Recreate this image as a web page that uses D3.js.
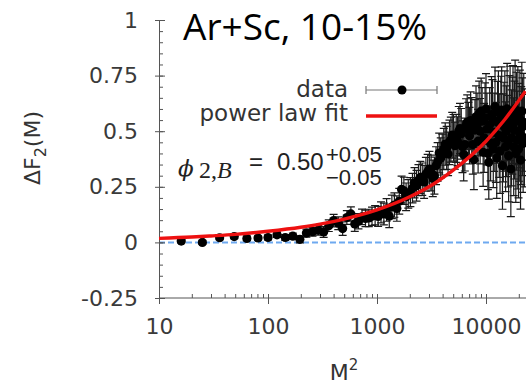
<!DOCTYPE html>
<html>
<head>
<meta charset="utf-8">
<script src="https://cdn.jsdelivr.net/npm/d3@7"></script>
<style>
  body { margin: 0; background: #fff; }
  svg { display: block; }
  .tick text { font-family: "DejaVu Sans", sans-serif; fill: #3a3a3a; }
</style>
</head>
<body>
<div id="chart"></div>
<script>
// bin number M (points are plotted at M^2)
const binM = [
  4, 5, 6, 7, 8, 9, 10, 11, 12, 13,
  14, 15, 16, 17, 18, 19, 20, 21, 22, 23,
  24, 25, 26, 27, 28, 29, 30, 31, 32, 33,
  34, 35, 36, 37, 38, 39, 40, 41, 42, 43,
  44, 45, 46, 47, 48, 49, 50, 51, 52, 53,
  54, 55, 56, 57, 58, 59, 60, 61, 62, 63,
  64, 65, 66, 67, 68, 69, 70, 71, 72, 73,
  74, 75, 76, 77, 78, 79, 80, 81, 82, 83,
  84, 85, 86, 87, 88, 89, 90, 91, 92, 93,
  94, 95, 96, 97, 98, 99, 100, 101, 102, 103,
  104, 105, 106, 107, 108, 109, 110, 111, 112, 113,
  114, 115, 116, 117, 118, 119, 120, 121, 122, 123,
  124, 125, 126, 127, 128, 129, 130, 131, 132, 133,
  134, 135, 136, 137, 138, 139, 140, 141, 142, 143,
  144, 145, 146, 147, 148, 149, 150
];
const deltaF2 = [
  0.006, 0.000, 0.021, 0.026, 0.018, 0.020, 0.022, 0.034, 0.022, 0.028,
  0.014, 0.042, 0.048, 0.055, 0.047, 0.075, 0.098, 0.086, 0.062, 0.112,
  0.128, 0.083, 0.095, 0.115, 0.108, 0.110, 0.118, 0.122, 0.117, 0.135,
  0.128, 0.146, 0.118, 0.160, 0.168, 0.152, 0.185, 0.238, 0.232, 0.205,
  0.218, 0.226, 0.244, 0.268, 0.255, 0.280, 0.292, 0.284, 0.272, 0.306,
  0.318, 0.330, 0.312, 0.288, 0.300, 0.345, 0.362, 0.402, 0.380, 0.395,
  0.420, 0.442, 0.425, 0.398, 0.450, 0.462, 0.482, 0.470, 0.435, 0.468,
  0.455, 0.500, 0.512, 0.488, 0.430, 0.395, 0.440, 0.525, 0.540, 0.505,
  0.480, 0.548, 0.520, 0.440, 0.372, 0.505, 0.565, 0.530, 0.455, 0.580,
  0.500, 0.590, 0.545, 0.405, 0.470, 0.560, 0.600, 0.510, 0.400, 0.360,
  0.530, 0.445, 0.575, 0.560, 0.420, 0.495, 0.610, 0.450, 0.380, 0.540,
  0.585, 0.480, 0.410, 0.555, 0.595, 0.345, 0.470, 0.520, 0.570, 0.430,
  0.500, 0.600, 0.455, 0.390, 0.540, 0.580, 0.330, 0.470, 0.525, 0.575,
  0.430, 0.505, 0.600, 0.400, 0.545, 0.460, 0.570, 0.420, 0.495, 0.555,
  0.370, 0.480, 0.590, 0.520, 0.445, 0.540, 0.470
];
const errF2 = [
  0.008, 0.008, 0.009, 0.009, 0.010, 0.010, 0.011, 0.012, 0.013, 0.014,
  0.016, 0.018, 0.020, 0.022, 0.024, 0.026, 0.028, 0.029, 0.030, 0.031,
  0.032, 0.033, 0.034, 0.035, 0.037, 0.039, 0.041, 0.043, 0.045, 0.047,
  0.049, 0.051, 0.052, 0.053, 0.055, 0.057, 0.058, 0.060, 0.061, 0.062,
  0.064, 0.065, 0.066, 0.068, 0.069, 0.070, 0.072, 0.073, 0.074, 0.076,
  0.078, 0.079, 0.080, 0.082, 0.083, 0.085, 0.087, 0.089, 0.090, 0.092,
  0.093, 0.095, 0.097, 0.098, 0.100, 0.101, 0.103, 0.105, 0.106, 0.108,
  0.110, 0.111, 0.113, 0.114, 0.116, 0.118, 0.119, 0.121, 0.123, 0.125,
  0.127, 0.129, 0.131, 0.133, 0.135, 0.137, 0.139, 0.141, 0.143, 0.145,
  0.147, 0.149, 0.151, 0.153, 0.155, 0.157, 0.159, 0.161, 0.163, 0.165,
  0.166, 0.168, 0.170, 0.172, 0.174, 0.176, 0.178, 0.180, 0.182, 0.184,
  0.186, 0.188, 0.190, 0.192, 0.194, 0.196, 0.198, 0.200, 0.201, 0.202,
  0.204, 0.205, 0.206, 0.208, 0.210, 0.212, 0.214, 0.216, 0.218, 0.220,
  0.220, 0.220, 0.220, 0.220, 0.220, 0.220, 0.220, 0.220, 0.220, 0.220,
  0.220, 0.220, 0.220, 0.220, 0.220, 0.220, 0.220
];

// power law fit
const fitM2 = [10, 20, 30, 50, 100, 200, 300, 500, 1000, 2000, 3000, 5000, 10000, 15000, 23000];
const fitVals = [0.018, 0.024, 0.029, 0.036, 0.050, 0.068, 0.082, 0.105, 0.146, 0.205, 0.250, 0.325, 0.455, 0.555, 0.680];

const yTickVals = [-0.25, 0, 0.25, 0.5, 0.75, 1];
const yTickLabels = ["-0.25", "0", "0.25", "0.5", "0.75", "1"];
const xTickVals = [10, 100, 1000, 10000];
const xTickLabels = ["10", "100", "1000", "10000"];

const width = 526, height = 386;

const svg = d3.select('#chart')
  .append('svg')
  .attr('width', width)
  .attr('height', height);

const x = d3.scaleLog().domain([10, 30000]).range([159, 159 + 109 * Math.log10(3000)]);
const y = d3.scaleLinear().domain([-0.25, 1]).range([298, 20]);

const points = binM.map((m, i) => ({m2: m * m, v: deltaF2[i], e: errF2[i]}));
const fit = fitM2.map((m2, i) => ({m2: m2, v: fitVals[i]}));

// zero reference line
svg.append('line')
  .attr('x1', x(10)).attr('x2', width)
  .attr('y1', y(0)).attr('y2', y(0))
  .attr('stroke', '#6ea9f0')
  .attr('stroke-width', 2)
  .attr('stroke-dasharray', '6,3');

// axes
const yAxis = svg.append('g')
  .attr('transform', `translate(${x(10)},0)`)
  .call(d3.axisLeft(y).tickValues(yTickVals).tickSize(4)
    .tickFormat((d, i) => yTickLabels[i]).tickPadding(17));
yAxis.selectAll('.tick text').attr('font-size', 22);

svg.append('g')
  .attr('transform', `translate(${x(10)},0)`)
  .call(d3.axisLeft(y).tickValues(y.ticks(25)).tickSize(-4).tickFormat(''))
  .call(g => g.select('.domain').remove());
svg.append('g')
  .attr('transform', `translate(${x(10)},0)`)
  .call(d3.axisLeft(y).tickValues(yTickVals).tickSize(-6).tickFormat(''))
  .call(g => g.select('.domain').remove());

const xAxis = svg.append('g')
  .attr('transform', `translate(0,${y(-0.25)})`)
  .call(d3.axisBottom(x).tickValues(xTickVals).tickSize(6)
    .tickFormat((d, i) => xTickLabels[i]).tickPadding(14));
xAxis.selectAll('.tick text').attr('font-size', 22);
xAxis.select('.domain').attr('d', `M${x(10)},0H${width}`);

svg.append('g')
  .attr('transform', `translate(0,${y(-0.25)})`)
  .call(d3.axisBottom(x).tickValues(x.ticks()).tickSize(-4).tickFormat(''))
  .call(g => g.select('.domain').remove());

svg.selectAll('.domain, .tick line').attr('stroke', '#555');

// error bars
const bars = svg.append('g')
  .attr('stroke', '#1a1a1a')
  .attr('stroke-width', 1.2)
  .attr('fill', 'none');

bars.selectAll('path')
  .data(points)
  .enter()
  .append('path')
  .attr('d', d => {
    const cx = x(d.m2), y0 = y(d.v - d.e), y1 = y(d.v + d.e);
    return `M${cx},${y0}V${y1}M${cx - 4},${y0}H${cx + 4}M${cx - 4},${y1}H${cx + 4}`;
  });

svg.append('g')
  .selectAll('circle')
  .data(points)
  .enter()
  .append('circle')
  .attr('cx', d => x(d.m2))
  .attr('cy', d => y(d.v))
  .attr('r', 4.6)
  .attr('fill', '#000');

// fit curve
svg.append('path')
  .datum(fit)
  .attr('fill', 'none')
  .attr('stroke', '#ee1111')
  .attr('stroke-width', 3.4)
  .attr('d', d3.line().x(d => x(d.m2)).y(d => y(d.v)).curve(d3.curveMonotoneX));

// legend
const legend = svg.append('g')
  .attr('font-family', '"DejaVu Sans", sans-serif')
  .attr('font-size', 23)
  .attr('fill', '#333');

legend.append('text')
  .attr('x', 348).attr('y', 97)
  .attr('text-anchor', 'end')
  .text('data');
legend.append('path')
  .attr('d', 'M366,90H437M366,86V94M437,86V94')
  .attr('stroke', '#777')
  .attr('stroke-width', 1.2);
legend.append('circle')
  .attr('cx', 402).attr('cy', 90).attr('r', 4.5).attr('fill', '#000');

legend.append('text')
  .attr('x', 348).attr('y', 121)
  .attr('text-anchor', 'end')
  .text('power law fit');
legend.append('line')
  .attr('x1', 366).attr('x2', 437)
  .attr('y1', 116).attr('y2', 116)
  .attr('stroke', '#ee1111')
  .attr('stroke-width', 3.4);

// exponent annotation
const ann = svg.append('g')
  .attr('fill', '#222')
  .attr('font-family', '"Liberation Sans", sans-serif')
  .attr('font-size', 24);
ann.append('text')
  .attr('x', 178).attr('y', 176)
  .attr('font-family', '"DejaVu Serif", serif')
  .attr('font-style', 'italic')
  .attr('font-size', 23)
  .text('ϕ');
const sub = ann.append('text')
  .attr('x', 199).attr('y', 178)
  .attr('font-family', '"Liberation Serif", serif')
  .attr('font-size', 24);
sub.append('tspan').text('2,');
sub.append('tspan').attr('font-style', 'italic').text('B');
ann.append('text').attr('x', 249).attr('y', 170).text('=');
ann.append('text').attr('x', 277).attr('y', 170).text('0.50');
ann.append('text').attr('x', 326).attr('y', 162).attr('font-size', 22).text('+0.05');
ann.append('text').attr('x', 326).attr('y', 185).attr('font-size', 22).text('\u22120.05');

// title
svg.append('text')
  .attr('x', 183).attr('y', 40)
  .attr('font-family', '"Open Sans", sans-serif')
  .attr('font-size', 37)
  .attr('fill', '#000')
  .text('Ar+Sc, 10-15%');

// axis titles
const yl = svg.append('text')
  .attr('transform', 'translate(40,148) rotate(-90)')
  .attr('text-anchor', 'middle')
  .attr('font-family', '"DejaVu Sans", sans-serif')
  .attr('font-size', 22)
  .attr('fill', '#333');
yl.append('tspan').text('ΔF');
yl.append('tspan').attr('font-size', 16).attr('dy', 6).text('2');
yl.append('tspan').attr('dy', -6).text('(M)');

const xl = svg.append('text')
  .attr('x', 344).attr('y', 380)
  .attr('text-anchor', 'middle')
  .attr('font-family', '"DejaVu Sans", sans-serif')
  .attr('font-size', 22)
  .attr('fill', '#333');
xl.append('tspan').text('M');
xl.append('tspan').attr('font-size', 15).attr('dy', -10).text('2');
</script>
</body>
</html>
